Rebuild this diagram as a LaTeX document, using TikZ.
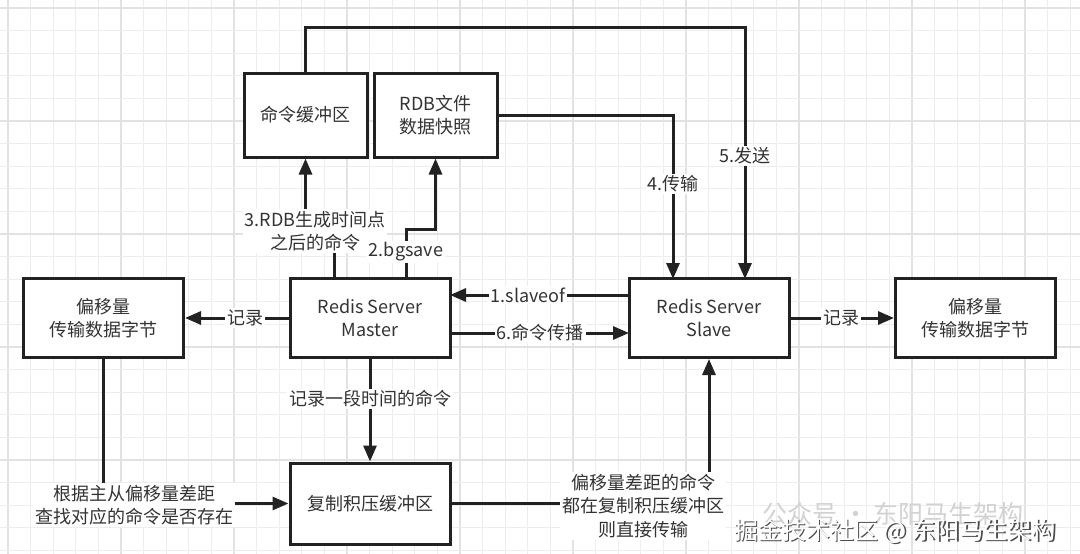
\documentclass[tikz,border=0pt]{standalone}
\usepackage{fontspec}
\setmainfont{Noto Sans CJK SC}
\usetikzlibrary{arrows.meta}
\definecolor{ink}{HTML}{222222}
\definecolor{txt}{HTML}{333333}
\definecolor{gridminor}{HTML}{EDEDED}
\definecolor{gridmajor}{HTML}{E2E2E2}
\begin{document}
\begin{tikzpicture}[x=1pt,y=-1pt,
  box/.style={draw=ink,line width=3pt,fill=white,minimum width=160pt,minimum height=79pt,
    align=center,text=txt,font=\fontsize{18}{23.5}\selectfont,inner sep=2pt},
  lbl/.style={fill=white,text=txt,align=center,font=\fontsize{18}{23.5}\selectfont,inner sep=2pt},
  conn/.style={draw=ink,line width=3pt},
  arr/.style={conn,-{Triangle[length=16pt,width=13pt]}}]
\useasboundingbox (0,0) rectangle (1080,554);
\fill[white] (0,0) rectangle (1080,554);
% grid
\foreach \i in {0,...,47}{
  \pgfmathsetmacro\gx{8+22.6*\i}
  \pgfmathtruncatemacro\m{mod(\i,5)}
  \ifnum\m=0 \draw[gridmajor,line width=1.4pt] (\gx,0) -- (\gx,554);
  \else \draw[gridminor,line width=1.2pt] (\gx,0) -- (\gx,554); \fi
}
\foreach \i in {0,...,24}{
  \pgfmathsetmacro\gy{8+22.6*\i}
  \pgfmathtruncatemacro\m{mod(\i,5)}
  \ifnum\m=0 \draw[gridmajor,line width=1.4pt] (0,\gy) -- (1080,\gy);
  \else \draw[gridminor,line width=1.2pt] (0,\gy) -- (1080,\gy); \fi
}
% boxes
\node[box,minimum width=123pt,minimum height=84pt] (cmdbuf) at (305.5,115) {命令缓冲区};
\node[box,minimum width=123pt,minimum height=84pt] (rdb) at (435.5,115) {RDB文件\\数据快照};
\node[box] (master) at (370,318) {Redis Server\\Master};
\node[box] (slave) at (709,318) {Redis Server\\Slave};
\node[box] (offL) at (103.5,318) {偏移量\\传输数据字节};
\node[box] (offR) at (975.5,318) {偏移量\\传输数据字节};
\node[box,minimum height=81pt] (backlog) at (370,503.5) {复制积压缓冲区};
% helper coordinates
\coordinate (m3) at (334,279);
\coordinate (j3a) at (334,231);
\coordinate (j3b) at (305.5,231);
\coordinate (m2) at (406,279);
\coordinate (j2) at (406,229);
\coordinate (s4) at (673,279);
\coordinate (s5) at (745,279);
\coordinate (top5) at (305.5,27);
\coordinate (sIn1) at (629,295);
\coordinate (mIn1) at (450,295);
\coordinate (mOut6) at (450,333);
\coordinate (sIn6) at (629,333);
% connectors
\draw[arr] (m3) -- (j3a) -- (j3b) -- (cmdbuf.south);
\draw[arr] (m2) -- (j2) -| (rdb.south);
\draw[arr] (rdb.east) -| (s4);
\draw[arr] (cmdbuf.north) -- (top5) -| (s5);
\draw[arr] (sIn1) -- (mIn1);
\draw[arr] (mOut6) -- (sIn6);
\draw[arr] (master.west) -- (offL.east);
\draw[arr] (slave.east) -- (offR.west);
\draw[arr] (master.south) -- (backlog.north);
\draw[arr] (offL.south) |- (backlog.west);
\draw[arr] (backlog.east) -| (slave.south);
% labels
\node[lbl] (l3) at (315,231) {3.RDB生成时间点\\之后的命令};
\node[lbl] (l2) at (406,252) {2.bgsave};
\node[lbl] (l4) at (673,184) {4.传输};
\node[lbl] (l5) at (745,156) {5.发送};
\node[lbl] (l1) at (528,295) {1.slaveof};
\node[lbl] (l6) at (540,333) {6.命令传播};
\node[lbl] (lrL) at (245,318) {记录};
\node[lbl] (lrR) at (841,318) {记录};
\node[lbl] (lrec) at (370,399) {记录一段时间的命令};
\node[lbl] (lfind) at (134,505) {根据主从偏移量差距\\查找对应的命令是否存在};
\node[lbl] (ltrans) at (643,506) {偏移量差距的命令\\都在复制积压缓冲区\\则直接传输};
% watermark
\node[text=gray!35,font=\fontsize{25}{28}\selectfont] (wm1) at (893,514) {公众号 · 东阳马生架构};
\node[text=black!70,font=\fontsize{24}{28}\selectfont] (wm2s) at (896.5,532.5) {掘金技术社区 @ 东阳马生架构};
\node[text=white,font=\fontsize{24}{28}\selectfont] (wm2) at (895,531) {掘金技术社区 @ 东阳马生架构};
\end{tikzpicture}
\end{document}
